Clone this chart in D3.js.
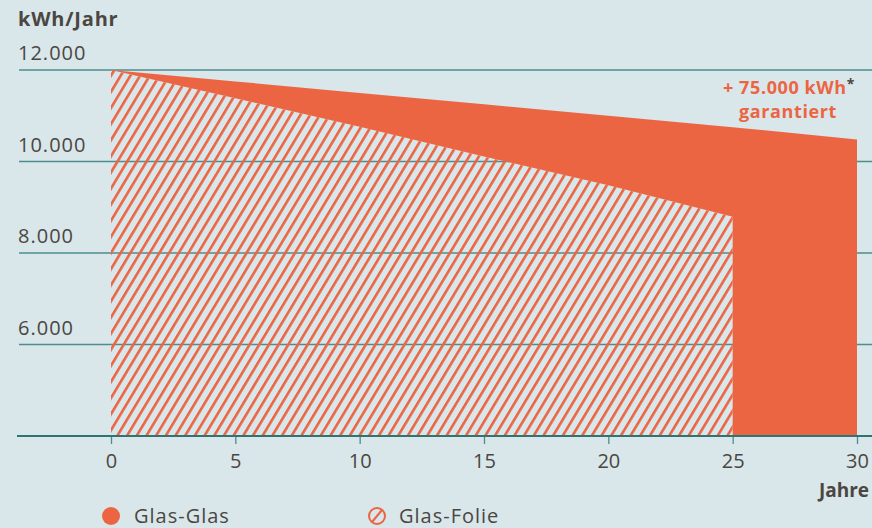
<!DOCTYPE html>
<html>
<head>
<meta charset="utf-8">
<script src="https://cdn.jsdelivr.net/npm/d3@7"></script>
<style>
  html, body { margin: 0; padding: 0; background: #d9e6ea; }
  svg { display: block; font-family: "Open Sans", Lato, sans-serif; }
  .tick text { fill: #4a4641; }
</style>
</head>
<body>
<div id="graphicContainer"></div>
<script>
// years with readings
var years = [0, 5, 10, 15, 20, 25, 30]
var glasGlas = [12000, 11750, 11500, 11250, 11000, 10750, 10480]
var folieYears = [0, 5, 10, 15, 20, 25]
var glasFolie = [12000, 11380, 10760, 10110, 9480, 8790]
var yTicks = [6000, 8000, 10000, 12000]
var xTicks = [0, 5, 10, 15, 20, 25, 30]
var seriesNames = ["Glas-Glas", "Glas-Folie"]

var orange = "#ec6542"
var textColor = "#4a4641"
var gridColor = "#4d8d8c"

var width = 872, height = 528

var svg = d3.select("#graphicContainer").append("svg")
	.attr("width", width)
	.attr("height", height)

var defs = svg.append("defs")
var pattern = defs.append("pattern")
	.attr("id", "hatch")
	.attr("patternUnits", "userSpaceOnUse")
	.attr("width", 8.3)
	.attr("height", 10)
	.attr("patternTransform", "rotate(31)")
pattern.append("rect")
	.attr("x", 0).attr("y", 0)
	.attr("width", 2.6).attr("height", 10)
	.attr("fill", orange)

var x = d3.scaleLinear()
	.domain([0, 30])
	.range([111, 857])

var y = d3.scaleLinear()
	.domain([4000, 12000])
	.range([436, 70])

var fmt = d3.format(",")
var deNum = d => fmt(d).replace(/,/g, ".")

// gridlines + labels
var grid = svg.append("g")
grid.selectAll("line")
	.data(yTicks)
	.enter()
	.append("line")
	.attr("x1", 19)
	.attr("x2", width)
	.attr("y1", d => y(d))
	.attr("y2", d => y(d))
	.attr("stroke", gridColor)
	.attr("stroke-width", 1.3)

grid.selectAll("text")
	.data(yTicks)
	.enter()
	.append("text")
	.attr("x", 18)
	.attr("y", d => y(d) - 10)
	.attr("fill", textColor)
	.attr("font-size", 20)
	.attr("letter-spacing", 1)
	.text(d => deNum(d))

svg.append("text")
	.attr("x", 18)
	.attr("y", 26)
	.attr("fill", textColor)
	.attr("font-size", 20)
	.attr("font-weight", "bold")
	.attr("letter-spacing", 0.8)
	.text("kWh/Jahr")

// solid region = Glas-Glas minus Glas-Folie
var solidPts = years.map((d, i) => [d, glasGlas[i]])
solidPts.push([30, 4000])
solidPts.push([25, 4000])
folieYears.slice().reverse().forEach(function (d) {
	solidPts.push([d, glasFolie[folieYears.indexOf(d)]])
})

var line = d3.line()
	.x(d => x(d[0]))
	.y(d => y(d[1]))

svg.append("path")
	.attr("d", line(solidPts) + "Z")
	.attr("fill", orange)

var area = d3.area()
	.x((d, i) => x(folieYears[i]))
	.y0(y(4000))
	.y1(d => y(d))

svg.append("path")
	.datum(glasFolie)
	.attr("d", area)
	.attr("fill", "url(#hatch)")

// x axis
var xAxis = d3.axisBottom(x)
	.tickValues(xTicks)
	.tickSize(8)
	.tickPadding(10)
	.tickSizeOuter(0)

var axisG = svg.append("g")
	.attr("transform", "translate(0," + y(4000) + ")")
	.call(xAxis)

axisG.select(".domain").remove()
axisG.selectAll(".tick line").attr("stroke", gridColor).attr("stroke-width", 1.3)
axisG.selectAll(".tick text")
	.attr("font-size", 20)
	.attr("font-family", "'Open Sans', sans-serif")
	.attr("fill", textColor)

svg.append("line")
	.attr("x1", 17)
	.attr("x2", width)
	.attr("y1", y(4000))
	.attr("y2", y(4000))
	.attr("stroke", "#2f7473")
	.attr("stroke-width", 2)

svg.append("text")
	.attr("x", 869)
	.attr("y", 497)
	.attr("text-anchor", "end")
	.attr("fill", textColor)
	.attr("font-size", 19)
	.attr("font-weight", "bold")
	.text("Jahre")

// annotation
var note = svg.append("text")
	.attr("x", 789)
	.attr("y", 94)
	.attr("text-anchor", "middle")
	.attr("fill", orange)
	.attr("font-size", 18)
	.attr("font-weight", "bold")
	.attr("letter-spacing", 0.6)
note.append("tspan").text("+ 75.000 kWh")
note.append("tspan")
	.attr("fill", textColor)
	.attr("font-size", 14)
	.attr("dy", -5)
	.text("*")

svg.append("text")
	.attr("x", 788)
	.attr("y", 118)
	.attr("text-anchor", "middle")
	.attr("fill", orange)
	.attr("font-size", 18)
	.attr("font-weight", "bold")
	.attr("letter-spacing", 0.6)
	.text("garantiert")

// legend
var legend = svg.append("g")
legend.append("circle")
	.attr("cx", 111)
	.attr("cy", 516)
	.attr("r", 9)
	.attr("fill", orange)
legend.append("text")
	.attr("x", 134)
	.attr("y", 523)
	.attr("fill", textColor)
	.attr("font-size", 20)
	.attr("letter-spacing", 1)
	.text(seriesNames[0])

legend.append("circle")
	.attr("cx", 377)
	.attr("cy", 516)
	.attr("r", 8)
	.attr("fill", "none")
	.attr("stroke", orange)
	.attr("stroke-width", 2)
legend.append("line")
	.attr("x1", 377 - 5)
	.attr("y1", 516 + 6)
	.attr("x2", 377 + 5)
	.attr("y2", 516 - 6)
	.attr("stroke", orange)
	.attr("stroke-width", 2)
legend.append("text")
	.attr("x", 399)
	.attr("y", 523)
	.attr("fill", textColor)
	.attr("font-size", 20)
	.attr("letter-spacing", 1)
	.text(seriesNames[1])
</script>
</body>
</html>
